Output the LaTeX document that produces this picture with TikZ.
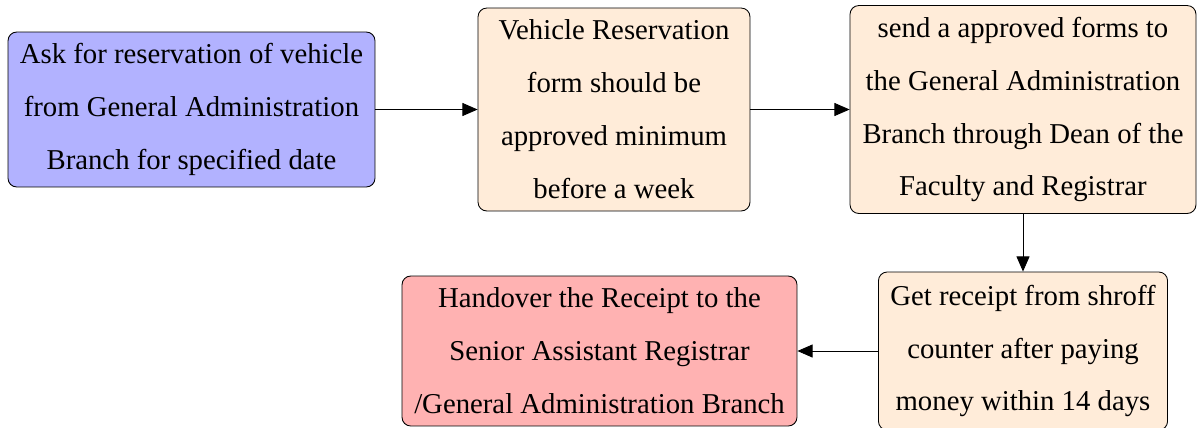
\documentclass[tikz,border=0pt]{standalone}
\usepackage{fontspec}
\setmainfont{Liberation Serif}
\usetikzlibrary{positioning,shapes,arrows.meta}

\begin{document}
\begin{tikzpicture}[x=0.4608pt, y=-0.4608pt, >={Triangle[length=7pt,width=6pt]},
  every node/.append style={align=center, draw=black, rounded corners=4pt, inner sep=0pt,
    font=\fontsize{13.25pt}{24.4pt}\selectfont}]
  \useasboundingbox (0,0) rectangle (1203,427);
  \node [fill=blue!30, minimum width=169.1pt, minimum height=71.4pt] at (191.5,109.5) (ask)
    {Ask for reservation of vehicle\\from General Administration\\Branch for specified date};
  \node [fill=orange!15, minimum width=125.3pt, minimum height=93.5pt] at (614,109.5) (form)
    {Vehicle Reservation\\form should be\\approved minimum\\before a week};
  \node [fill=orange!15, minimum width=159.4pt, minimum height=95.8pt] at (1023,109.5) (send)
    {send a approved forms to\\the General Administration\\Branch through Dean of the\\Faculty and Registrar};
  \node [fill=orange!15, minimum width=133.2pt, minimum height=72.8pt] at (1023,351) (rec)
    {Get receipt from shroff\\counter after paying\\money within 14 days};
  \node [fill=red!30, minimum width=182.0pt, minimum height=69.1pt] at (599.5,351) (hand)
    {Handover the Receipt to the\\Senior Assistant Registrar\\/General Administration Branch};
  \draw[->] (ask.east) -- (form.west);
  \draw[->] (form.east) -- (send.west);
  \draw[->] (send.south) -- (rec.north);
  \draw[->] (rec.west) -- (hand.east);
\end{tikzpicture}
\end{document}
